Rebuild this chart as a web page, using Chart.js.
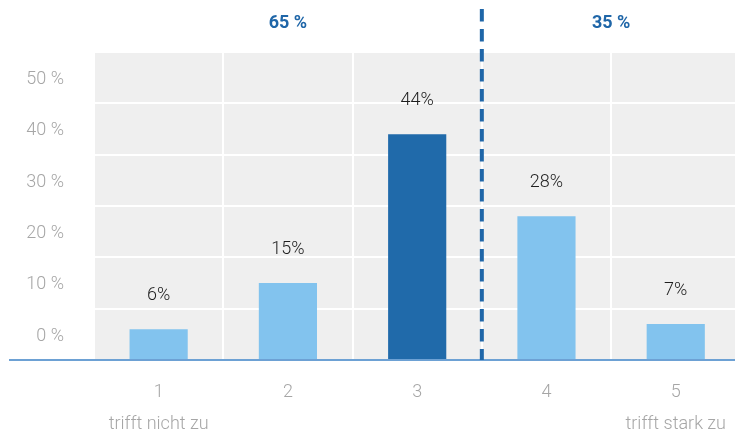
<!DOCTYPE html>
<html lang="de">
<head>
    <meta charset="UTF-8">
    <title>Zustimmung</title>
    <style>
        html, body { margin: 0; padding: 0; background: #fff; overflow: hidden; }
        #wrap { width: 742px; height: 433px; }
    </style>
</head>
<body>
<div id="wrap"><canvas id="chart" width="742" height="433"></canvas></div>
<script src="https://cdn.jsdelivr.net/npm/chart.js"></script>
<script>
// data
const categories = ['1', '2', '3', '4', '5'];
const subLabels = ['trifft nicht zu', '', '', '', 'trifft stark zu'];
const values = [6, 15, 44, 28, 7];
const barColors = ['#82c3ee', '#82c3ee', '#206aaa', '#82c3ee', '#82c3ee'];
const yTickLabels = ['0 %', '10 %', '20 %', '30 %', '40 %', '50 %'];
const groupLabels = ['65 %', '35 %'];
const groupStart = [0, 3];
const groupEnd = [2, 4];

const gray = '#a6a6a6';
const blue = '#1f66a8';

const decor = {
    id: 'decor',
    beforeDraw(chart) {
        const a = chart.chartArea;
        const ctx = chart.ctx;
        ctx.save();
        ctx.fillStyle = '#efefef';
        ctx.fillRect(a.left, a.top, a.right - a.left, a.bottom - a.top);
        ctx.restore();
    },
    afterDatasetsDraw(chart) {
        const ctx = chart.ctx;
        const a = chart.chartArea;
        const x = chart.scales.x;

        // value labels over the bars
        const meta = chart.getDatasetMeta(0);
        ctx.save();
        ctx.font = '300 18px Roboto';
        ctx.fillStyle = '#1e1e1e';
        ctx.textAlign = 'center';
        ctx.textBaseline = 'middle';
        meta.data.forEach((bar, i) => {
            ctx.fillText(values[i] + '%', bar.x, bar.y - 34);
        });

        // baseline
        ctx.strokeStyle = '#3d82c6';
        ctx.lineWidth = 1.5;
        ctx.beginPath();
        ctx.moveTo(9, a.bottom);
        ctx.lineTo(chart.width, a.bottom);
        ctx.stroke();

        // dashed divider between 3 and 4
        const dx = (x.getPixelForValue(2) + x.getPixelForValue(3)) / 2;
        ctx.strokeStyle = blue;
        ctx.lineWidth = 4;
        ctx.setLineDash([12.5, 7.5]);
        ctx.beginPath();
        ctx.moveTo(dx, 9);
        ctx.lineTo(dx, a.bottom);
        ctx.stroke();
        ctx.setLineDash([]);

        // group totals
        ctx.font = 'bold 18px Roboto';
        ctx.fillStyle = blue;
        groupLabels.forEach((txt, i) => {
            const cx = (x.getPixelForValue(groupStart[i]) + x.getPixelForValue(groupEnd[i])) / 2;
            ctx.fillText(txt, cx, 23);
        });
        ctx.restore();
    }
};

new Chart(document.getElementById('chart'), {
    type: 'bar',
    data: {
        labels: categories.map((c, i) => [c, subLabels[i]]),
        datasets: [{
            data: values,
            backgroundColor: barColors,
            borderWidth: 0,
            categoryPercentage: 1,
            barPercentage: 0.45
        }]
    },
    options: {
        responsive: false,
        animation: false,
        layout: { padding: { top: 52, left: 0, right: 0, bottom: 0 } },
        plugins: { legend: { display: false }, tooltip: { enabled: false } },
        scales: {
            x: {
                grid: { color: '#ffffff', lineWidth: 2, drawTicks: false },
                border: { display: false },
                ticks: {
                    color: gray,
                    padding: 16,
                    maxRotation: 0,
                    font: { family: 'Roboto', size: 18, weight: '300', lineHeight: 1.8 }
                },
                afterFit(scale) { scale.height = 73; }
            },
            y: {
                min: 0,
                max: 60,
                grid: { color: '#ffffff', lineWidth: 2, drawTicks: false },
                border: { display: false },
                ticks: {
                    stepSize: 10,
                    color: gray,
                    padding: 30,
                    labelOffset: -24,
                    font: { family: 'Roboto', size: 18, weight: '300' },
                    callback: (v) => yTickLabels[v / 10] || ''
                },
                afterFit(scale) { scale.width = 94; }
            }
        }
    },
    plugins: [decor]
});
</script>
</body>
</html>
